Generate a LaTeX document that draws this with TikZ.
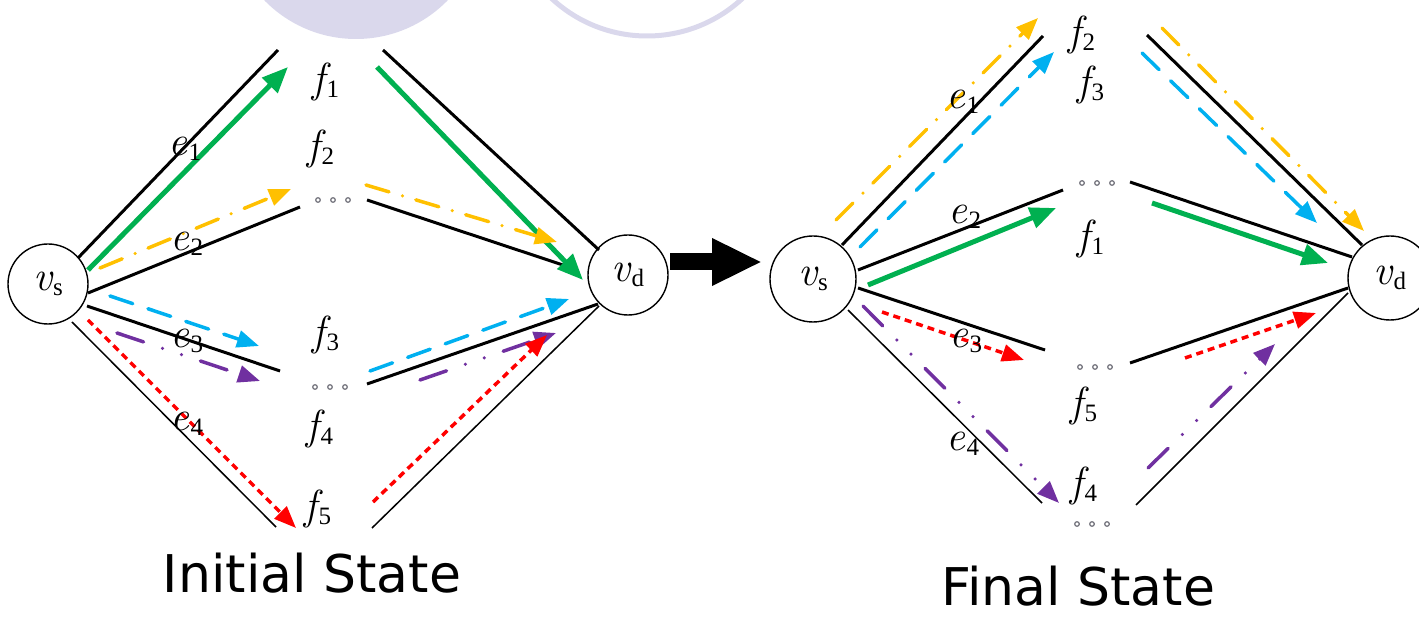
\documentclass[tikz,border=0pt]{standalone}
\usepackage{fontspec}
\setmainfont{Liberation Serif}
\newfontfamily\serf{Liberation Serif}
\newfontfamily\symfont{Latin Modern Roman}
\newfontfamily\capfont{DejaVu Sans}
\usetikzlibrary{arrows.meta}

\definecolor{lav}{HTML}{DAD8EC}
\definecolor{fgreen}{HTML}{00B050}
\definecolor{fyellow}{HTML}{FFC000}
\definecolor{fblue}{HTML}{00B0F0}
\definecolor{fpurple}{HTML}{7030A0}
\definecolor{fred}{HTML}{FF0000}
\definecolor{dotgray}{HTML}{6E6E78}

% italic symbol with an upright subscript
\newcommand{\symsub}[2]{{\symfont\itshape #1}\kern1pt\raisebox{-5pt}{\serf\fontsize{25}{25}\selectfont #2}}

\tikzset{
  vertex/.style={circle, draw, line width=1.4pt, minimum size=80pt, inner sep=0pt,
                 font=\serf\fontsize{42}{42}\selectfont},
  lbl/.style={inner sep=0pt, font=\serf\fontsize{42}{42}\selectfont},
  caption/.style={inner sep=0pt, anchor=base, font=\capfont\fontsize{52}{52}\selectfont},
  heavy/.style={line width=3pt},
  light/.style={line width=1.5pt},
  headS/.style={-{Triangle[length=22pt,width=17pt]}},
  flowG/.style={fgreen, line width=5pt, -{Triangle[length=26pt,width=21pt]}},
  flowY/.style={fyellow, line width=3.5pt, line cap=round,
                dash pattern=on 24pt off 14pt on 0pt off 14pt, headS},
  flowB/.style={fblue, line width=3.5pt, line cap=round,
                dash pattern=on 24pt off 16pt, headS},
  flowP/.style={fpurple, line width=3.5pt, line cap=round,
                dash pattern=on 28pt off 20pt on 0pt off 20pt on 0pt off 20pt, headS},
  flowR/.style={fred, line width=3.5pt, dash pattern=on 7pt off 5pt, headS},
  bigarrow/.style={line width=17pt, -{Triangle[length=50pt,width=44pt]}},
  ellip/.pic={\foreach \i in {-15,0,15} \draw[dotgray, line width=1.2pt] (\i,0) circle (2.3pt);}
}

\begin{document}
\begin{tikzpicture}[x=1pt, y=-1pt]
\useasboundingbox (0,0) rectangle (1419,617);
\clip (0,0) rectangle (1419,617);

% decorative discs at the top edge
\fill[lav] (356,-89) circle (128);
\draw[lav, line width=5pt] (647,-104) circle (140);

% ---------------- initial state ----------------
\node[vertex] (Lvs) at (48,284) {\symsub{v}{s}};
\node[vertex] (Lvd) at (628,275) {\symsub{v}{d}};

\coordinate (Le1s) at (78,258);  \coordinate (Le1t) at (278,50);
\coordinate (Le2s) at (88,293);  \coordinate (Le2t) at (300,207);
\coordinate (Le3s) at (87,306);  \coordinate (Le3t) at (280,371);
\coordinate (Le4s) at (72,322);  \coordinate (Le4t) at (276,527);
\coordinate (Lr1s) at (383,50);  \coordinate (Lr1t) at (599,250);
\coordinate (Lr2s) at (367,200); \coordinate (Lr2t) at (575,269);
\coordinate (Lr3s) at (367,384); \coordinate (Lr3t) at (598,304);
\coordinate (Lr4s) at (372,528); \coordinate (Lr4t) at (599,306);

\draw[heavy] (Le1s) -- (Le1t);
\draw[heavy] (Le2s) -- (Le2t);
\draw[heavy] (Le3s) -- (Le3t);
\draw[light] (Le4s) -- (Le4t);
\draw[heavy] (Lr1s) -- (Lr1t);
\draw[heavy] (Lr2s) -- (Lr2t);
\draw[heavy] (Lr3s) -- (Lr3t);
\draw[light] (Lr4s) -- (Lr4t);

\coordinate (Lg1s) at (88,270);  \coordinate (Lg1t) at (288,67);
\coordinate (Lg2s) at (377,67);  \coordinate (Lg2t) at (583,280);
\coordinate (Ly1s) at (100,268); \coordinate (Ly1t) at (291,189);
\coordinate (Ly2s) at (366,185); \coordinate (Ly2t) at (557,242);
\coordinate (Lb1s) at (110,296); \coordinate (Lb1t) at (259,346);
\coordinate (Lb2s) at (370,371); \coordinate (Lb2t) at (569,299);
\coordinate (Lp1s) at (117,333); \coordinate (Lp1t) at (260,381);
\coordinate (Lp2s) at (420,380); \coordinate (Lp2t) at (556,333);
\coordinate (Lq1s) at (88,320);  \coordinate (Lq1t) at (296,528);
\coordinate (Lq2s) at (373,502); \coordinate (Lq2t) at (547,335);

\draw[flowG] (Lg1s) -- (Lg1t);
\draw[flowG] (Lg2s) -- (Lg2t);
\draw[flowY] (Ly1s) -- (Ly1t);
\draw[flowY] (Ly2s) -- (Ly2t);
\draw[flowB] (Lb1s) -- (Lb1t);
\draw[flowB] (Lb2s) -- (Lb2t);
\draw[flowP] (Lp1s) -- (Lp1t);
\draw[flowP] (Lp2s) -- (Lp2t);
\draw[flowR] (Lq1s) -- (Lq1t);
\draw[flowR] (Lq2s) -- (Lq2t);

\node[lbl] (Le1) at (185,149) {\symsub{e}{1}};
\node[lbl] (Le2) at (187,244) {\symsub{e}{2}};
\node[lbl] (Le3) at (187,341) {\symsub{e}{3}};
\node[lbl] (Le4) at (187,424) {\symsub{e}{4}};
\node[lbl] (Lf1) at (326,82)  {\symsub{f}{1}};
\node[lbl] (Lf2) at (321,149) {\symsub{f}{2}};
\node[lbl] (Lf3) at (326,335) {\symsub{f}{3}};
\node[lbl] (Lf4) at (320,429) {\symsub{f}{4}};
\node[lbl] (Lf5) at (318,509) {\symsub{f}{5}};
\pic at (333,200) {ellip};
\pic at (330,387) {ellip};

\node[caption] (Lcap) at (312,592) {Initial State};

% transition arrow
\coordinate (Ts) at (670,262);
\coordinate (Tt) at (762,262);
\draw[bigarrow] (Ts) -- (Tt);

% ---------------- final state ----------------
\node[vertex, minimum size=86pt] (Rvs) at (813,279) {\symsub{v}{s}};
\node[vertex, minimum size=84pt] (Rvd) at (1390,278) {\symsub{v}{d}};

\coordinate (Re1s) at (842,245);  \coordinate (Re1t) at (1043,36);
\coordinate (Re2s) at (858,270);  \coordinate (Re2t) at (1063,190);
\coordinate (Re3s) at (858,288);  \coordinate (Re3t) at (1045,350);
\coordinate (Re4s) at (848,310);  \coordinate (Re4t) at (1042,503);
\coordinate (Rr1s) at (1147,35);  \coordinate (Rr1t) at (1362,245);
\coordinate (Rr2s) at (1130,182); \coordinate (Rr2t) at (1352,257);
\coordinate (Rr3s) at (1130,363); \coordinate (Rr3t) at (1348,288);
\coordinate (Rr4s) at (1136,505); \coordinate (Rr4t) at (1348,293);

\draw[heavy] (Re1s) -- (Re1t);
\draw[heavy] (Re2s) -- (Re2t);
\draw[heavy] (Re3s) -- (Re3t);
\draw[light] (Re4s) -- (Re4t);
\draw[heavy] (Rr1s) -- (Rr1t);
\draw[heavy] (Rr2s) -- (Rr2t);
\draw[heavy] (Rr3s) -- (Rr3t);
\draw[light] (Rr4s) -- (Rr4t);

\coordinate (Ry1s) at (836,220);  \coordinate (Ry1t) at (1038,18);
\coordinate (Rb1s) at (860,247);  \coordinate (Rb1t) at (1054,52);
\coordinate (Ry2s) at (1162,28);  \coordinate (Ry2t) at (1364,231);
\coordinate (Rb2s) at (1142,53);  \coordinate (Rb2t) at (1317,223);
\coordinate (Rg1s) at (868,285);  \coordinate (Rg1t) at (1056,208);
\coordinate (Rg2s) at (1152,203); \coordinate (Rg2t) at (1328,263);
\coordinate (Rq1s) at (882,312);  \coordinate (Rq1t) at (1024,360);
\coordinate (Rq2s) at (1185,358); \coordinate (Rq2t) at (1316,313);
\coordinate (Rp1s) at (863,306);  \coordinate (Rp1t) at (1059,503);
\coordinate (Rp2s) at (1148,468); \coordinate (Rp2t) at (1275,344);

\draw[flowY] (Ry1s) -- (Ry1t);
\draw[flowB] (Rb1s) -- (Rb1t);
\draw[flowY] (Ry2s) -- (Ry2t);
\draw[flowB] (Rb2s) -- (Rb2t);
\draw[flowG] (Rg1s) -- (Rg1t);
\draw[flowG] (Rg2s) -- (Rg2t);
\draw[flowR] (Rq1s) -- (Rq1t);
\draw[flowR] (Rq2s) -- (Rq2t);
\draw[flowP] (Rp1s) -- (Rp1t);
\draw[flowP] (Rp2s) -- (Rp2t);

\node[lbl] (Re1) at (963,102) {\symsub{e}{1}};
\node[lbl] (Re2) at (965,217) {\symsub{e}{2}};
\node[lbl] (Re3) at (966,341) {\symsub{e}{3}};
\node[lbl] (Re4) at (963,444) {\symsub{e}{4}};
\node[lbl] (Rf2) at (1082,35)  {\symsub{f}{2}};
\node[lbl] (Rf3) at (1091,85)  {\symsub{f}{3}};
\node[lbl] (Rf1) at (1091,239) {\symsub{f}{1}};
\node[lbl] (Rf5) at (1084,406) {\symsub{f}{5}};
\node[lbl] (Rf4) at (1084,486) {\symsub{f}{4}};
\pic at (1097,183) {ellip};
\pic at (1095,367) {ellip};
\pic at (1092,524) {ellip};

\node[caption] (Rcap) at (1078,605) {Final State};
\end{tikzpicture}
\end{document}
